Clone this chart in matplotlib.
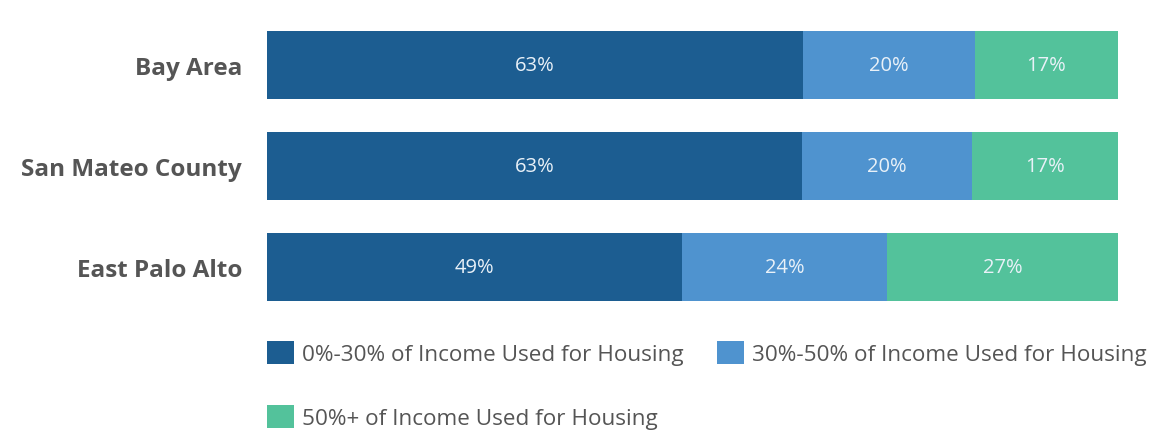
import numpy as np
import matplotlib.pyplot as plt
from matplotlib.patches import Patch

plt.rcParams['font.family'] = ['Open Sans', 'DejaVu Sans']

regions = ['Bay Area', 'San Mateo County', 'East Palo Alto']
low = [63.0, 62.9, 48.8]      # 0%-30%
mid = [20.2, 19.9, 24.1]      # 30%-50%
high = [16.8, 17.2, 27.1]     # 50%+
series_names = ['0%-30% of Income Used for Housing',
                '30%-50% of Income Used for Housing',
                '50%+ of Income Used for Housing']
colors = ['#1c5d91', '#4f93cf', '#53c29b']

W, H = 1170, 435
fig = plt.figure(figsize=(W / 100, H / 100), dpi=100)
ax = fig.add_axes([267 / W, 1 - 302 / H, (1118 - 267) / W, 270 / H])

y = np.arange(len(regions))
bh = 0.67
left = np.zeros(len(regions))
for vals, c in zip([low, mid, high], colors):
    vals = np.array(vals)
    ax.barh(y, vals, left=left, height=bh, color=c, edgecolor='none')
    for yi, l, v in zip(y, left, vals):
        ax.text(l + v / 2, yi, f'{v:.0f}%', ha='center', va='center',
                color='#e9f1f8', fontsize=14.5)
    left += vals

ax.set_xlim(0, 100)
ax.set_ylim(len(regions) - 1 + bh / 2, -bh / 2)
ax.set_yticks(y)
ax.set_yticklabels(regions, fontsize=17.5, fontweight='bold', color='#555555')
ax.tick_params(axis='y', length=0, pad=18)
ax.set_xticks([])
for s in ax.spines.values():
    s.set_visible(False)

# row-wise order for a 2-column legend: A B / C
order = [0, 2, 1]
handles = [Patch(facecolor=colors[i], edgecolor='none') for i in order]
labels = [series_names[i] for i in order]
fig.legend(handles, labels, loc='upper left',
           bbox_to_anchor=(258 / W, 1 - 333 / H), ncol=2, frameon=False,
           fontsize=16.2, labelcolor='#555555', handlelength=1.2,
           handleheight=1.2, handletextpad=0.35, columnspacing=1.5,
           labelspacing=1.75, borderaxespad=0)

fig.savefig('out.png', dpi=100, facecolor='white')
